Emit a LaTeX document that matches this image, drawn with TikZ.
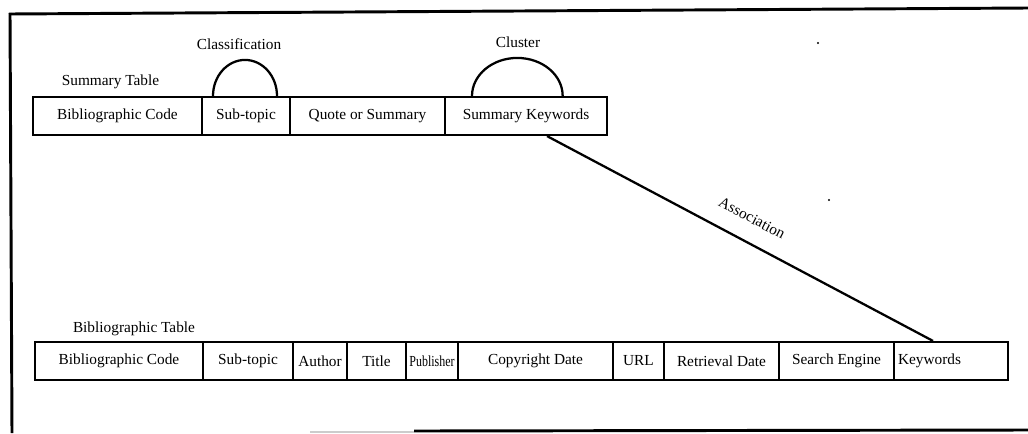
\documentclass[tikz,border=0pt]{standalone}
\usepackage{fontspec}
\setmainfont{Liberation Serif}
\begin{document}
\begin{tikzpicture}[x=0.75pt,y=-0.75pt,
  cell/.style={draw,line width=1.6pt,inner sep=0pt,minimum height=28.5pt,font=\fontsize{11.5}{13}\selectfont},
  lbl/.style={inner sep=0pt,font=\fontsize{11.5}{13}\selectfont},
  frameline/.style={line width=2.2pt},
  link/.style={line width=1.7pt}]
\useasboundingbox (0,0) rectangle (1028,433);
% frame
\draw[frameline] (9,14) -- (1028,8);
\draw[frameline] (10,13) -- (12,433);
\draw[line width=1.5pt,black!20] (310,432) -- (414,432);
\draw[frameline] (414,431) -- (1028,430);
% summary table
\node[lbl] (stitle) at (110.5,82) {Summary Table};
\node[cell,minimum width=126.75pt] (sbc) at (117.5,116) {Bibliographic Code};
\node[cell,minimum width=66pt] (sst) at (246,116) {Sub-topic};
\node[cell,minimum width=116.25pt] (sqs) at (367.5,116) {Quote or Summary};
\node[cell,minimum width=121.5pt] (skw) at (526,116) {Summary Keywords};
% relations on summary table
\draw[link] ([xshift=-24.75pt]sst.north) arc[start angle=180,end angle=0,x radius=24pt,y radius=27pt];
\node[lbl] (cls) at (239,44) {Classification};
\draw[link] ([xshift=-40.5pt]skw.north) arc[start angle=180,end angle=0,x radius=34pt,y radius=28.5pt];
\node[lbl] (clu) at (518,42) {Cluster};
% bibliographic table
\node[lbl] (btitle) at (134,329) {Bibliographic Table};
\node[cell,minimum width=126pt] (bbc) at (119,361) {Bibliographic Code};
\node[cell,minimum width=67.5pt] (bst) at (248,361) {Sub-topic};
\node[cell,minimum width=40.5pt] (bau) at (320,361) {Author};
\node[cell,minimum width=44.25pt] (bti) at (376.5,361) {Title};
\node[cell,minimum width=39pt] (bpu) at (432,361) {\scalebox{0.78}[1]{Publisher}};
\node[cell,minimum width=116.25pt] (bcd) at (535.5,361) {Copyright Date};
\node[cell,minimum width=38.25pt] (burl) at (638.5,361) {URL};
\node[cell,minimum width=86.25pt] (brd) at (721.5,361) {Retrieval Date};
\node[cell,minimum width=86.25pt] (bse) at (836.5,361) {Search Engine};
\node[cell,minimum width=85.5pt,text width=79.5pt,align=left] (bkw) at (951,361) {Keywords};
% association
\draw[link] ([xshift=15.75pt]skw.south) -- ([xshift=-13.5pt]bkw.north);
\node[lbl,rotate=-27.5] (assoc) at (752,218) {Association};
% scan specks
\fill (818,43) circle[radius=0.8pt];
\fill (829,200) circle[radius=0.8pt];
\end{tikzpicture}
\end{document}
